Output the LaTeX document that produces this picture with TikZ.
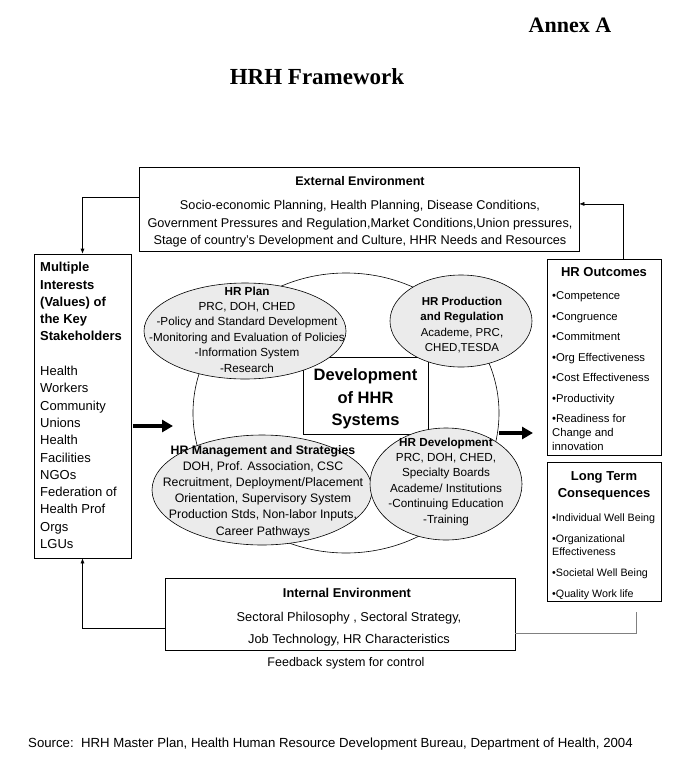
\documentclass[tikz,border=0pt]{standalone}
\usepackage{fontspec}
\setmainfont{Liberation Sans}
\newfontfamily\seriffont{Liberation Serif}
\usetikzlibrary{calc,arrows.meta,shapes.geometric}
\newcommand{\fsz}[2]{\fontsize{#1}{#2}\selectfont}
\begin{document}
\begin{tikzpicture}[x=1pt,y=-1pt,
  box/.style={draw, line width=0.6pt, inner sep=0pt, fill=white},
  arr/.style={-{Latex[length=5pt,width=4pt]}, line width=0.6pt},
  bigarr/.style={-{Triangle[length=11pt,width=12pt]}, line width=3.2pt},
  oval/.style={draw, ellipse, line width=0.6pt, fill=gray!16, inner sep=0pt},
  bigoval/.style={draw, ellipse, line width=0.6pt, fill=white, inner sep=0pt},
  txt/.style={align=center, inner sep=0pt},
  ltxt/.style={align=left, inner sep=0pt, anchor=west},
]
\useasboundingbox (0,0) rectangle (690,764);

% titles
\node[txt, font=\seriffont\bfseries\fsz{22}{25}] (annex) at (570,25) {Annex A};
\node[txt, font=\seriffont\bfseries\fsz{23}{26}] (title) at (317,77) {HRH Framework};

% external environment
\node[box, minimum width=440pt, minimum height=84pt] (ext) at (359,209) {};
\node[txt, font=\bfseries\fsz{12.5}{15}] (extt) at (360,181) {External Environment};
\node[txt, font=\fsz{12.7}{17.5}] (extb) at (360,224) {Socio-economic Planning, Health Planning, Disease Conditions,\\
Government Pressures and Regulation,Market Conditions,Union pressures,\\
Stage of country's Development and Culture, HHR Needs and Resources};

% left box
\node[box, minimum width=97pt, minimum height=304pt] (left) at (82.5,406) {};
\node[ltxt, font=\fsz{13}{17.3}] (leftt) at (40,405.5) {\textbf{Multiple}\\ \textbf{Interests}\\ \textbf{(Values) of}\\ \textbf{the Key}\\ \textbf{Stakeholders}\\[17.3pt]
Health\\ Workers\\ Community\\ Unions\\ Health\\ Facilities\\ NGOs\\ Federation of\\ Health Prof\\ Orgs\\ LGUs};

% HR outcomes
\node[box, minimum width=114pt, minimum height=196pt] (hro) at (604,357) {};
\node[txt, font=\bfseries\fsz{13}{15}] (hrot) at (604,272) {HR Outcomes};
\node[ltxt, font=\fsz{11.3}{14}] (hrob) at (552,371.5) {\textbullet Competence\\[6.5pt] \textbullet Congruence\\[6.5pt] \textbullet Commitment\\[6.5pt] \textbullet Org Effectiveness\\[6.5pt] \textbullet Cost Effectiveness\\[6.5pt] \textbullet Productivity\\[6.5pt] \textbullet Readiness for\\ Change and\\ innovation};

% long term consequences
\node[box, minimum width=114pt, minimum height=139pt] (ltc) at (604,531.5) {};
\node[txt, font=\bfseries\fsz{13}{17}] (ltct) at (604,485.5) {Long Term\\ Consequences};
\node[ltxt, font=\fsz{10.7}{13}] (ltcb) at (552,556.5) {\textbullet Individual Well Being\\[8pt] \textbullet Organizational\\ Effectiveness\\[8pt] \textbullet Societal Well Being\\[8pt] \textbullet Quality Work life};

% internal environment
\node[box, minimum width=350pt, minimum height=72pt] (int) at (340,614) {};
\node[txt, font=\bfseries\fsz{12.8}{15}] (intt) at (347,593) {Internal Environment};
\node[txt, font=\fsz{12.8}{22.5}] (intb) at (349,629) {Sectoral Philosophy , Sectoral Strategy,\\ Job Technology, HR Characteristics};
\node[txt, font=\fsz{12.5}{15}] (fb) at (346,663) {Feedback system for control};

% source
\node[ltxt, font=\fsz{13.2}{15}] (src) at (28,744) {Source:\ \ HRH Master Plan, Health Human Resource Development Bureau, Department of Health, 2004};

% centre system
\node[bigoval, minimum width=306pt, minimum height=280pt] (big) at (346,413) {};
\node[box, minimum width=125pt, minimum height=77pt] (sys) at (365.5,395.5) {};
\node[txt, font=\bfseries\fsz{16.5}{22.5}] (syst) at (365.5,399) {Development\\ of HHR\\ Systems};

\node[oval, minimum width=202pt, minimum height=96pt] (plan) at (245,331) {};
\node[txt, font=\fsz{11.7}{15.4}] (plant) at (247,329.5) {\textbf{HR Plan}\\ PRC, DOH, CHED\\ -Policy and Standard Development\\ -Monitoring and Evaluation of Policies\\ -Information System\\ -Research};

\node[oval, minimum width=142pt, minimum height=92pt] (prod) at (461,321) {};
\node[txt, font=\fsz{11.5}{15.3}] (prodt) at (462,325) {\textbf{HR Production}\\ \textbf{and Regulation}\\ Academe, PRC,\\ CHED,TESDA};

\node[oval, minimum width=220pt, minimum height=110pt] (mgmt) at (262,490) {};
\node[txt, font=\fsz{12.3}{16.2}] (mgmtt) at (263,491.5) {\textbf{HR Management and Strategies}\\ DOH, Prof. Association, CSC\\ Recruitment, Deployment/Placement\\ Orientation, Supervisory System\\ Production Stds, Non-labor Inputs,\\ Career Pathways};

\node[oval, minimum width=152pt, minimum height=112pt] (dev) at (446,484) {};
\node[txt, font=\fsz{11.7}{15.4}] (devt) at (446,481.5) {\textbf{HR Development}\\ PRC, DOH, CHED,\\ Specialty Boards\\ Academe/ Institutions\\ -Continuing Education\\ -Training};

% thick arrows
\coordinate (la1) at (133,426);
\coordinate (la2) at (173,426);
\coordinate (ra1) at (499,433);
\coordinate (ra2) at (533,433);
\draw[bigarr] (la1) -- (la2);
\draw[bigarr] (ra1) -- (ra2);

% connectors
\draw[arr] ($(ext.north west)!0.36!(ext.south west)$) -| (left.north);
\draw[arr] ($(hro.north west)!0.667!(hro.north east)$) |- ($(ext.north east)!0.44!(ext.south east)$);
\draw[arr] ($(int.north west)!0.7!(int.south west)$) -| (left.south);
\coordinate (fbend) at (636,612);
\draw[gray, line width=0.6pt] ($(int.north east)!0.76!(int.south east)$) -| (fbend);
\end{tikzpicture}
\end{document}
